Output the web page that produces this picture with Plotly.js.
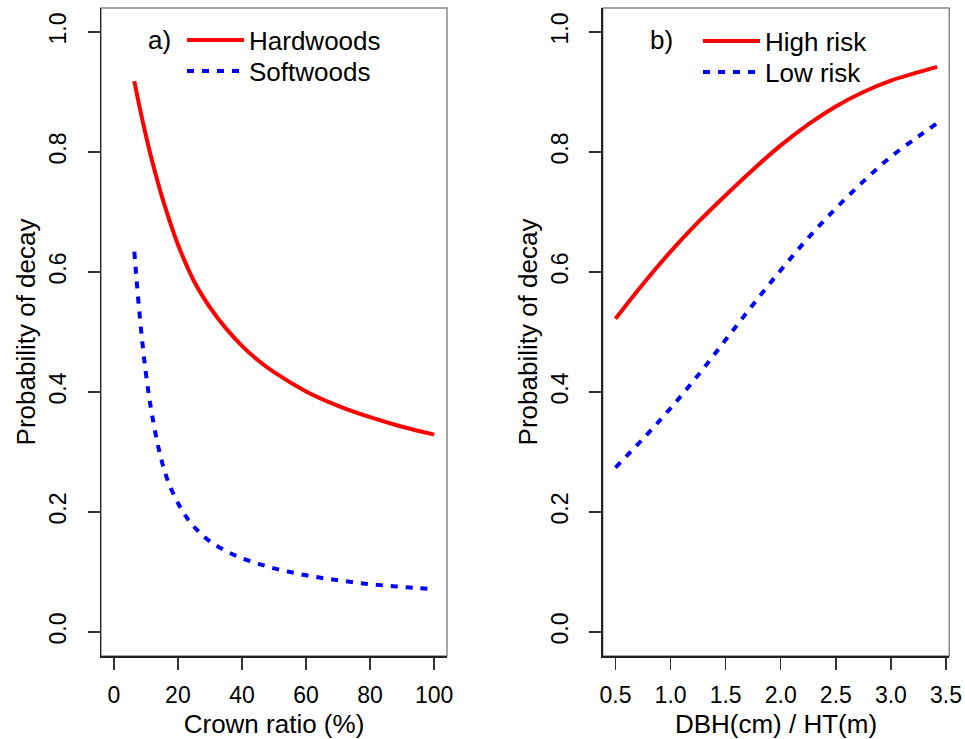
<!DOCTYPE html>
<html><head><meta charset="utf-8">
<script src="https://cdn.plot.ly/plotly-3.0.1.min.js"></script>
<style>html,body{margin:0;padding:0;background:#fff}#chart{width:965px;height:739px}</style>
</head><body><div id="chart"></div>
<script>
// Panel a) — crown ratio (%)
const crownRatioHard = [6.4, 8, 10, 12, 15, 18, 20, 25, 30, 35, 40, 45, 50, 60, 70, 80, 90, 100];
const hardwoods = [0.918, 0.876, 0.828, 0.784, 0.726, 0.676, 0.646, 0.585, 0.541, 0.506, 0.477, 0.453, 0.433, 0.401, 0.377, 0.358, 0.342, 0.329];
const crownRatioSoft = [6.4, 7, 8, 9, 10, 11, 12, 13.5, 15, 17, 20, 23, 26, 30, 35, 40, 45, 50, 55, 60, 65, 70, 75, 80, 85, 90, 95, 100];
const softwoods = [0.634, 0.594, 0.532, 0.478, 0.432, 0.393, 0.360, 0.318, 0.284, 0.250, 0.215, 0.189, 0.170, 0.151, 0.135, 0.123, 0.114, 0.106, 0.100, 0.0945, 0.090, 0.0862, 0.0827, 0.0798, 0.0772, 0.0752, 0.0731, 0.0712];
// Panel b) — DBH(cm)/HT(m)
const dbhHt = [0.5, 0.75, 1.0, 1.25, 1.5, 1.75, 2.0, 2.25, 2.5, 2.75, 3.0, 3.25, 3.42];
const highRisk = [0.522, 0.580, 0.634, 0.683, 0.728, 0.771, 0.811, 0.846, 0.876, 0.900, 0.919, 0.933, 0.942];
const lowRisk = [0.274, 0.322, 0.373, 0.428, 0.487, 0.546, 0.603, 0.657, 0.706, 0.751, 0.792, 0.826, 0.848];
// Ticks
const xTicksA = [0, 20, 40, 60, 80, 100];
const xTicksB = [0.5, 1.0, 1.5, 2.0, 2.5, 3.0, 3.5];
const yTicks = [0, 0.2, 0.4, 0.6, 0.8, 1.0];
const names = ['Hardwoods', 'Softwoods', 'High risk', 'Low risk'];
const panelTags = ['a)', 'b)'];
const xTitles = ['Crown ratio (%)', 'DBH(cm) / HT(m)'];
const yTitle = 'Probability of decay';

const FONT = 'Liberation Sans, Arial, sans-serif';
const W = 965, H = 739;

const solid = {color: '#ff0000', width: 4, shape: 'spline', smoothing: 1};
const dashed = {color: '#0000ff', width: 4, dash: '7px,8px', shape: 'spline', smoothing: 1};

const traces = [
  {x: crownRatioHard, y: hardwoods, name: names[0], mode: 'lines', line: solid, xaxis: 'x', yaxis: 'y', legend: 'legend'},
  {x: crownRatioSoft, y: softwoods, name: names[1], mode: 'lines', line: dashed, xaxis: 'x', yaxis: 'y', legend: 'legend2'},
  {x: dbhHt, y: highRisk, name: names[2], mode: 'lines', line: solid, xaxis: 'x2', yaxis: 'y2', legend: 'legend3'},
  {x: dbhHt, y: lowRisk, name: names[3], mode: 'lines', line: dashed, xaxis: 'x2', yaxis: 'y2', legend: 'legend4'}
];

function axis(extra) {
  return Object.assign({
    showline: true, linecolor: '#222', linewidth: 1.5,
    ticks: 'outside', ticklen: 12, tickwidth: 1.5, tickcolor: '#333',
    showgrid: false, zeroline: false, automargin: true,
    tickfont: {family: FONT, size: 23, color: '#000'}
  }, extra);
}
const yDomain = [1 - 656 / H, 1 - 8 / H];
const titleFont = {family: FONT, size: 26, color: '#000'};

function legend(x, yc) {
  return {x: x / W, y: 1 - (yc - 23.4) / H, xanchor: 'left', yanchor: 'top',
    bgcolor: 'rgba(0,0,0,0)', borderwidth: 0, itemwidth: 57,
    font: {family: FONT, size: 26, color: '#000'}};
}

const layout = {
  width: W, height: H,
  margin: {l: 0, r: 0, t: 0, b: 0, autoexpand: false},
  paper_bgcolor: '#fff', plot_bgcolor: '#fff',
  font: {family: FONT, color: '#000'},
  xaxis: axis({domain: [101 / W, 447 / W], range: [-4, 104], tickvals: xTicksA, anchor: 'y', ticklabelstandoff: 6,
    title: {text: xTitles[0], font: titleFont, standoff: 17}}),
  yaxis: axis({domain: yDomain, range: [-0.04, 1.04], tickvals: yTicks, tickformat: '.1f', tickangle: -90, anchor: 'x', ticklabelstandoff: 12,
    title: {text: yTitle, font: titleFont, standoff: 2}}),
  xaxis2: axis({domain: [602.7 / W, 949.3 / W], range: [0.384, 3.53], tickvals: xTicksB, tickformat: '.1f', anchor: 'y2', ticklabelstandoff: 6,
    title: {text: xTitles[1], font: titleFont, standoff: 17}}),
  yaxis2: axis({domain: yDomain, range: [-0.04, 1.04], tickvals: yTicks, tickformat: '.1f', tickangle: -90, anchor: 'x2', ticklabelstandoff: 12,
    title: {text: yTitle, font: titleFont, standoff: 2}}),
  legend: legend(182, 40),
  legend2: legend(182, 71),
  legend3: legend(698, 41),
  legend4: legend(698, 72),
  annotations: [
    {text: panelTags[0], xref: 'paper', yref: 'paper', x: 159.5 / W, y: 1 - 40 / H, xanchor: 'center', yanchor: 'middle', showarrow: false, font: titleFont},
    {text: panelTags[1], xref: 'paper', yref: 'paper', x: 661.7 / W, y: 1 - 40 / H, xanchor: 'center', yanchor: 'middle', showarrow: false, font: titleFont}
  ],
  shapes: [
    {type: 'rect', xref: 'x domain', yref: 'y domain', x0: 0, x1: 1, y0: 0, y1: 1, line: {color: '#888', width: 1.5}, layer: 'below'},
    {type: 'rect', xref: 'x2 domain', yref: 'y2 domain', x0: 0, x1: 1, y0: 0, y1: 1, line: {color: '#888', width: 1.5}, layer: 'below'}
  ],
  showlegend: true
};

Plotly.newPlot('chart', traces, layout, {displayModeBar: false, staticPlot: true});
</script>
</body></html>
